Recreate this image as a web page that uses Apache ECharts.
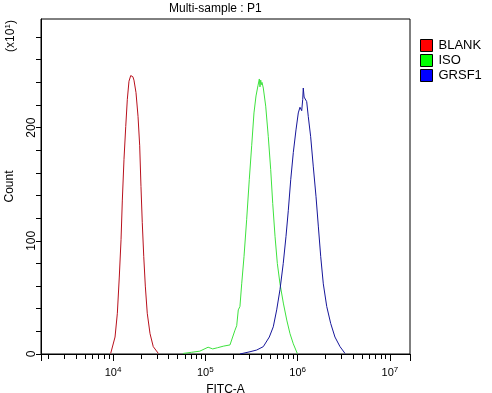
<!DOCTYPE html>
<html>
<head>
<meta charset="utf-8">
<script src="https://cdn.jsdelivr.net/npm/echarts@6/dist/echarts.min.js"></script>
<style>
html,body{margin:0;padding:0;background:#fff;}
#chart{width:492px;height:393px;}
</style>
</head>
<body>
<div id="chart"></div>
<script>
// FITC-A values as log10 exponents, counts (x10)
var seriesNames = ['BLANK', 'ISO', 'GRSF1'];
var lineColors = ['#b8101c', '#3ee23e', '#16169a'];
var legendColors = ['#ff0000', '#00ff00', '#0000ff'];

var blankLogX = [3.975, 4.022, 4.047, 4.068, 4.087, 4.101, 4.119, 4.138, 4.155, 4.173, 4.192, 4.203, 4.215, 4.227, 4.249, 4.271, 4.289, 4.303, 4.317, 4.333, 4.350, 4.371, 4.401, 4.436, 4.491];
var blankCount = [0.5, 15, 36, 68, 101, 136, 172, 201, 225, 241, 246, 247, 245, 242, 231, 210, 184, 148, 116, 86, 60, 36, 18, 6.5, 0.5];

var isoLogX = [4.76, 4.85, 4.94, 5.03, 5.08, 5.13, 5.20, 5.267, 5.321, 5.340, 5.357, 5.375, 5.394, 5.419, 5.448, 5.476, 5.502, 5.527, 5.549, 5.570, 5.585, 5.592, 5.600, 5.607, 5.614, 5.628, 5.654, 5.682, 5.708, 5.730, 5.755, 5.780, 5.809, 5.845, 5.882, 5.917, 5.953, 5.996];
var isoCount = [0.5, 1.5, 2.5, 6, 4.5, 5.5, 7, 8, 21, 25, 39, 42, 62, 86, 119, 154, 184, 213, 228, 237, 243, 236, 242, 238, 240, 235, 219, 192, 163, 133, 104, 80, 62, 45, 30, 18, 9, 0.5];

var grsfLogX = [5.375, 5.484, 5.556, 5.628, 5.693, 5.736, 5.773, 5.809, 5.844, 5.874, 5.899, 5.925, 5.953, 5.982, 6.007, 6.025, 6.044, 6.055, 6.061, 6.070, 6.080, 6.098, 6.115, 6.141, 6.169, 6.199, 6.224, 6.250, 6.278, 6.315, 6.358, 6.404, 6.459, 6.513];
var grsfCount = [0, 2, 3.5, 6.5, 15, 24, 39, 57, 80, 104, 127, 154, 178, 198, 213, 218, 215, 225, 235, 227, 226, 223, 210, 192, 166, 139, 113, 86, 62, 42, 27, 15, 6.5, 0.5];

var xMin = 3.22, xMax = 7.217;
var xMajorTicks = [3.22, 4, 5, 6, 7, 7.217];
var xLabelValues = [4, 5, 6, 7];
var xMinorMultipliers = [2, 3, 4, 5, 6, 7, 8, 9];
var yMin = 0, yMax = 296;
var yTickValues = [0, 20, 40, 60, 80, 100, 120, 140, 160, 180, 200, 220, 240, 260, 280];
var yLabelValues = [0, 100, 200];

var xMinorTicks = [];
for (var d = 3; d <= 7; d++) {
  xMinorMultipliers.forEach(function (k) {
    var v = d + Math.log10(k);
    if (v > xMin && v < xMax) xMinorTicks.push(v);
  });
}

function pairs(xs, ys) { return xs.map(function (x, i) { return [x, ys[i]]; }); }
var allData = [pairs(blankLogX, blankCount), pairs(isoLogX, isoCount), pairs(grsfLogX, grsfCount)];

var font = 'Liberation Sans, Arial, sans-serif';
var chart = echarts.init(document.getElementById('chart'));
chart.setOption({
  animation: false,
  backgroundColor: '#fff',
  title: {
    text: 'Multi-sample : P1', left: 169, top: 3, padding: 0,
    textStyle: { fontSize: 12, fontWeight: 'normal', color: '#000', fontFamily: font }
  },
  grid: { left: 41, top: 19, right: 82, bottom: 39, show: true, borderColor: '#000', borderWidth: 1, containLabel: false, outerBoundsMode: 'none' },
  legend: {
    orient: 'vertical', left: 420, top: 39, padding: 0, itemWidth: 12, itemHeight: 12, itemGap: 2, icon: 'rect',
    textStyle: { fontSize: 13, color: '#000', fontFamily: font, padding: [0, 0, 0, 1] },
    data: seriesNames.map(function (n, i) {
      return { name: n, itemStyle: { color: legendColors[i], borderColor: '#000', borderWidth: 1 } };
    })
  },
  xAxis: [{
    type: 'value', min: xMin, max: xMax, position: 'bottom',
    name: 'FITC-A', nameLocation: 'middle', nameGap: 28,
    nameTextStyle: { fontSize: 12, color: '#000', fontFamily: font },
    axisLine: { lineStyle: { color: '#000', width: 1 } },
    axisTick: { customValues: xMajorTicks, length: 7, lineStyle: { color: '#000' } },
    axisLabel: {
      customValues: xLabelValues, margin: 12, color: '#000', fontFamily: font,
      formatter: function (v) { return '{b|10}{s|' + Math.round(v) + '}'; },
      rich: {
        b: { fontSize: 11, fontFamily: font, color: '#000' },
        s: { fontSize: 8, fontFamily: font, color: '#000', padding: [0, 0, 6, 0] }
      }
    },
    splitLine: { show: false }
  }, {
    type: 'value', min: xMin, max: xMax, position: 'bottom',
    axisLine: { show: false },
    axisTick: { customValues: xMinorTicks, length: 5, lineStyle: { color: '#000' } },
    axisLabel: { show: false },
    splitLine: { show: false }
  }],
  yAxis: {
    type: 'value', min: yMin, max: yMax,
    name: 'Count', nameLocation: 'middle', nameGap: 25, nameRotate: 90,
    nameTextStyle: { fontSize: 12, color: '#000', fontFamily: font },
    axisLine: { show: true, lineStyle: { color: '#000', width: 1 } },
    axisTick: { show: true, customValues: yTickValues, length: 5, lineStyle: { color: '#000' } },
    axisLabel: { customValues: yLabelValues, rotate: 90, margin: 3, fontSize: 12, color: '#000', fontFamily: font },
    splitLine: { show: false }
  },
  graphic: [{
    type: 'text', x: 11, y: 36, rotation: Math.PI / 2,
    style: {
      text: '(x10{s|1})', fill: '#000', font: '12px ' + font,
      align: 'center', verticalAlign: 'middle',
      rich: { s: { fontSize: 8, fontFamily: font, fill: '#000', padding: [0, 0, 6, 0] } }
    }
  }],
  series: seriesNames.map(function (n, i) {
    return {
      name: n, type: 'line', xAxisIndex: 0, data: allData[i], showSymbol: false,
      lineStyle: { color: lineColors[i], width: 1 }, itemStyle: { color: legendColors[i] },
      emphasis: { disabled: true }
    };
  })
});
</script>
</body>
</html>
